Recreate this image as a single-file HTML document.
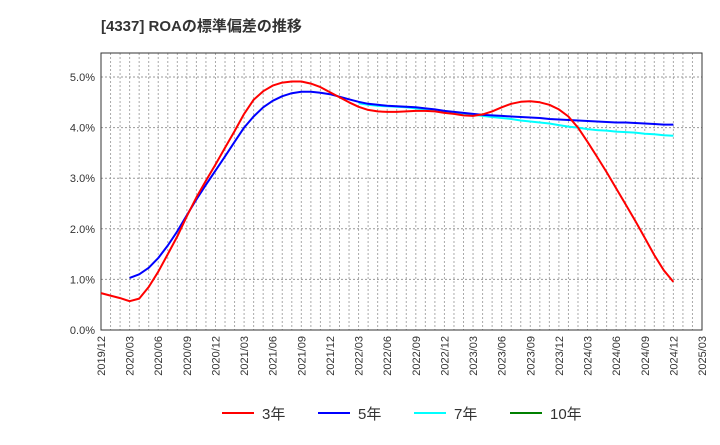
<!DOCTYPE html>
<html><head><meta charset="utf-8"><style>
body{margin:0;background:#fff;font-family:"Liberation Sans","Noto Sans CJK JP",sans-serif}
</style></head><body>
<svg id="c" width="720" height="440" xmlns="http://www.w3.org/2000/svg">
<text x="101" y="31" font-size="15" font-weight="bold" fill="#333" font-family="Liberation Sans, Noto Sans CJK JP, sans-serif">[4337]  ROAの標準偏差の推移</text>
<g id="grid"></g><g id="axes"></g><g id="series"></g><g id="legend"></g>
</svg>
<script>
const xTicks=["2019/12","2020/03","2020/06","2020/09","2020/12","2021/03","2021/06","2021/09","2021/12","2022/03","2022/06","2022/09","2022/12","2023/03","2023/06","2023/09","2023/12","2024/03","2024/06","2024/09","2024/12","2025/03"];
const yTicks=[0,1,2,3,4,5];
const s3=[0.73,0.68,0.63,0.57,0.62,0.85,1.15,1.5,1.85,2.25,2.62,2.95,3.27,3.6,3.93,4.27,4.55,4.72,4.83,4.89,4.91,4.91,4.87,4.80,4.70,4.60,4.50,4.41,4.35,4.32,4.31,4.31,4.32,4.33,4.33,4.32,4.29,4.27,4.24,4.23,4.26,4.32,4.40,4.47,4.51,4.52,4.50,4.45,4.36,4.22,4.0,3.72,3.42,3.12,2.80,2.48,2.16,1.82,1.48,1.18,0.95];
const s3start=0;
const s5=[1.03,1.10,1.23,1.42,1.67,1.95,2.27,2.58,2.87,3.15,3.43,3.72,4.0,4.22,4.40,4.53,4.62,4.68,4.71,4.71,4.69,4.66,4.61,4.56,4.51,4.47,4.45,4.43,4.42,4.41,4.40,4.38,4.36,4.33,4.31,4.29,4.27,4.25,4.24,4.23,4.22,4.21,4.20,4.19,4.17,4.16,4.15,4.14,4.13,4.12,4.11,4.10,4.10,4.09,4.08,4.07,4.06,4.06];
const s5start=3;
const s7=[4.48,4.45,4.43,4.42,4.41,4.40,4.38,4.36,4.33,4.30,4.28,4.27,4.25,4.23,4.21,4.19,4.17,4.14,4.12,4.10,4.08,4.05,4.02,4.00,3.97,3.95,3.94,3.92,3.91,3.90,3.88,3.87,3.85,3.84];
const s7start=27;
const L=101,R=702,T=53,B=330,months=63,yMax=5.474;
const X=m=>L+(R-L)*m/months;
const Y=v=>B-(B-T)*v/yMax;
const NS="http://www.w3.org/2000/svg";
function mk(tag,attrs,parent){const e=document.createElementNS(NS,tag);for(const k in attrs)e.setAttribute(k,attrs[k]);parent.appendChild(e);return e;}
const grid=document.getElementById('grid'),axes=document.getElementById('axes'),ser=document.getElementById('series'),leg=document.getElementById('legend');
for(let m=1;m<months;m++){const l=mk('line',{x1:X(m),x2:X(m),y1:T,y2:B,stroke:'#aaa','stroke-dasharray':'2,2','stroke-width':1},grid);

}
yTicks.forEach(v=>{if(v>0){const l=mk('line',{x1:L,x2:R,y1:Y(v),y2:Y(v),stroke:'#999','stroke-dasharray':'2,2','stroke-width':1},grid);

}
const t=mk('text',{x:L-6,y:Y(v)+4,'text-anchor':'end','font-size':11,fill:'#333'},axes);t.textContent=v.toFixed(1)+'%';

});
const fr=mk('rect',{x:L,y:T,width:R-L,height:B-T,fill:'none',stroke:'#333','stroke-width':1},axes);


xTicks.forEach((s,i)=>{const x=X(i*3);const t=mk('text',{x:x+4,y:B+6,'text-anchor':'end','font-size':11,fill:'#333',transform:`rotate(-90 ${x+4} ${B+6})`},axes);t.textContent=s;

});
function line(arr,start,color,name){const p=arr.map((v,i)=>X(start+i).toFixed(1)+','+Y(v).toFixed(1)).join(' ');
const e=mk('polyline',{points:p,fill:'none',stroke:color,'stroke-width':2,'stroke-linejoin':'round'},ser);

}
line(s7,s7start,'#00ffff','series-7y');
line(s5,s5start,'#0000ff','series-5y');
line(s3,s3start,'#ff0000','series-3y');
[["3年","#ff0000",222],["5年","#0000ff",318],["7年","#00ffff",414],["10年","#008000",510]].forEach(([n,c,x])=>{
const g=mk('g',{},leg);


mk('line',{x1:x,x2:x+32,y1:413,y2:413,stroke:c,'stroke-width':2},g);
const t=mk('text',{x:x+40,y:419,'font-size':15,fill:'#333'},g);t.textContent=n;});
</script>
</body></html>
